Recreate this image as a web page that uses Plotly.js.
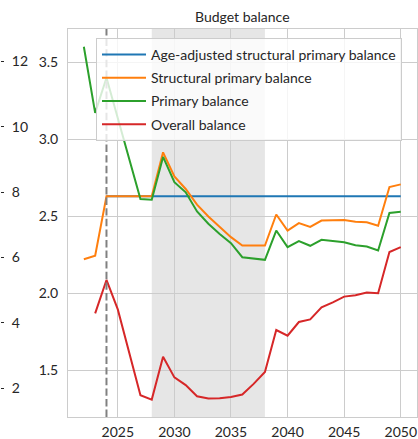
<!DOCTYPE html>
<html>
<head>
<meta charset="utf-8">
<script src="https://cdn.plot.ly/plotly-3.0.1.min.js"></script>
<style>html,body{margin:0;padding:0;background:#fff;}#chart{width:418px;height:439px;}</style>
</head>
<body>
<div id="chart"></div>
<script>
const years = [2022,2023,2024,2025,2026,2027,2028,2029,2030,2031,2032,2033,2034,2035,2036,2037,2038,2039,2040,2041,2042,2043,2044,2045,2046,2047,2048,2049,2050];
const ageAdjusted = [null,null,2.628,2.628,2.628,2.628,2.628,2.628,2.628,2.628,2.628,2.628,2.628,2.628,2.628,2.628,2.628,2.628,2.628,2.628,2.628,2.628,2.628,2.628,2.628,2.628,2.628,2.628,2.628];
const structuralPrimary = [2.22,2.242,2.628,2.628,2.628,2.628,2.628,2.914,2.758,2.676,2.574,2.497,2.428,2.363,2.309,2.309,2.309,2.51,2.406,2.454,2.43,2.471,2.471,2.474,2.463,2.46,2.437,2.689,2.706];
const primary = [3.60,3.17,3.398,3.13,2.87,2.611,2.606,2.884,2.72,2.654,2.53,2.45,2.383,2.324,2.233,2.224,2.216,2.406,2.298,2.337,2.307,2.346,2.337,2.33,2.311,2.302,2.276,2.52,2.528];
const overall = [null,1.868,2.085,1.894,1.617,1.336,1.308,1.586,1.452,1.402,1.33,1.315,1.317,1.325,1.341,1.41,1.488,1.76,1.723,1.812,1.829,1.907,1.94,1.977,1.986,2.003,1.999,2.266,2.298];
const seriesNames = ["Age-adjusted structural primary balance","Structural primary balance","Primary balance","Overall balance"];
const xTicks = [2025,2030,2035,2040,2045,2050];
const yTicks = [1.5,2.0,2.5,3.0,3.5];
const y2Ticks = [2,4,6,8,10,12];
const projStart = 2028, projEnd = 2038, markerYear = 2024;

const colors = ["#1f77b4","#ff7f0e","#2ca02c","#d62728"];
const seriesData = [ageAdjusted, structuralPrimary, primary, overall];
const FONT = "Lato, 'Noto Sans', sans-serif";

const traces = seriesData.map((s,i)=>({
  x: years, y: s, type:'scatter', mode:'lines', name: seriesNames[i],
  line:{color:colors[i], width:2}, legendgroup:'g'+i, connectgaps:false
}));
traces.push({x:[], y:[], yaxis:'y2', type:'scatter', mode:'lines', showlegend:false, hoverinfo:'skip'});

const layout = {
  width:418, height:439,
  margin:{l:0, r:0, t:29, b:22},
  paper_bgcolor:'#fff', plot_bgcolor:'#fff',
  font:{family:FONT, size:14, color:'#262626'},
  title:{text:'Budget balance', font:{family:FONT, size:14, color:'#262626'}, xref:'container', x:0.5797, xanchor:'center', yref:'container', y:1-17/439, yanchor:'middle'},
  showlegend:true,
  legend:{x:96/418, y:(417-38)/388, xanchor:'left', yanchor:'top', bgcolor:'rgba(255,255,255,0.8)', bordercolor:'#cccccc', borderwidth:1, font:{family:FONT, size:14, color:'#262626'}, tracegroupgap:2, itemwidth:44},
  xaxis:{domain:[68/418, 416.6/418], range:[2020.6, 2051.4], tickvals:xTicks, ticks:'', showgrid:true, gridcolor:'#cccccc', gridwidth:1, showline:true, linecolor:'#cccccc', linewidth:1, mirror:true, zeroline:false, ticklabelstandoff:2, tickfont:{size:14}},
  yaxis:{range:[1.195, 3.715], tickvals:yTicks, tickformat:'.1f', ticks:'', showgrid:true, gridcolor:'#cccccc', gridwidth:1, showline:true, linecolor:'#cccccc', linewidth:1, mirror:true, zeroline:false, ticklabelstandoff:6, tickfont:{size:14}},
  yaxis2:{overlaying:'y', anchor:'free', position:0, side:'right', range:[1.12, 12.99], tickvals:y2Ticks, ticks:'outside', ticklen:3, tickwidth:1, tickcolor:'#262626', showgrid:false, showline:false, zeroline:false, tickfont:{size:14}, ticklabelstandoff:5},
  shapes:[
    {type:'rect', xref:'x', yref:'paper', x0:projStart, x1:projEnd, y0:0, y1:1, fillcolor:'rgba(128,128,128,0.2)', line:{width:0}, layer:'between'},
    {type:'line', xref:'x', yref:'paper', x0:markerYear, x1:markerYear, y0:0, y1:1, line:{color:'#808080', width:2, dash:'7.4px,3.2px'}, layer:'above'}
  ]
};
Plotly.newPlot('chart', traces, layout, {displayModeBar:false, staticPlot:true});
</script>
</body>
</html>
